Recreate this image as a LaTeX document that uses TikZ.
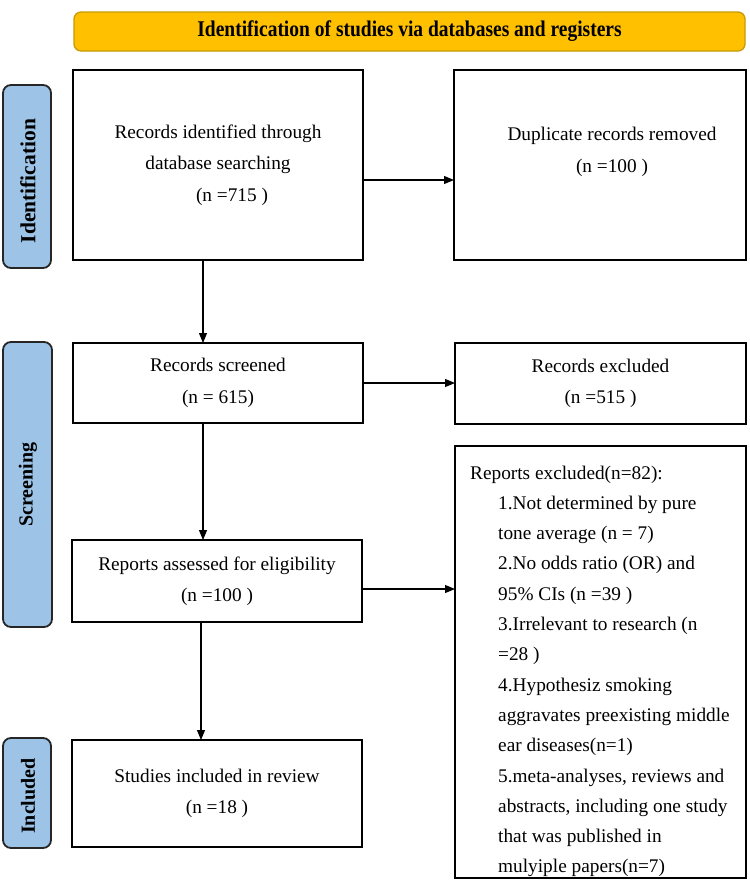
\documentclass[tikz,border=0pt]{standalone}
\usepackage{fontspec}
\setmainfont{Liberation Serif}
\usetikzlibrary{arrows.meta}
\definecolor{bannerfill}{HTML}{FFC000}
\definecolor{bannerline}{HTML}{C99A06}
\definecolor{sidefill}{HTML}{9DC3E6}
\begin{document}
\begin{tikzpicture}[x=1pt,y=-1pt,
  box/.style={draw=black,line width=1.8pt,fill=white,inner sep=0pt,outer sep=0pt,
    align=center,font=\fontsize{19.3}{31.5}\selectfont},
  side/.style={draw=black!85,line width=1.8pt,fill=sidefill,rounded corners=8pt,
    inner sep=0pt,outer sep=0pt},
  sidetext/.style={rotate=90,font=\fontsize{20}{24}\selectfont\bfseries},
  txt/.style={align=center,font=\fontsize{19.3}{31.5}\selectfont,inner sep=0pt},
  arr/.style={draw=black,line width=1.1pt,-{Triangle[length=10pt,width=8pt]}}
]
\useasboundingbox (0,0) rectangle (750,895);
\fill[white] (0,0) rectangle (750,895);

% banner
\node[draw=bannerline,line width=1.3pt,fill=bannerfill,rounded corners=7pt,
  minimum width=671pt,minimum height=39pt,inner sep=0pt,
  font=\fontsize{19.5}{22}\selectfont\bfseries] (banner) at (409.5,31.5)
  {\scalebox{1}[1.15]{Identification of studies via databases and registers}};

% side labels
\node[side,minimum width=48pt,minimum height=183pt] (sid) at (27,176.5) {};
\node[sidetext,font=\fontsize{21.5}{24}\selectfont\bfseries] (sidt) at (28,181) {Identification};
\node[side,minimum width=49pt,minimum height=285pt] (sscr) at (27.5,484.5) {};
\node[sidetext] (sscrt) at (28,484.5) {Screening};
\node[side,minimum width=48pt,minimum height=110pt] (sinc) at (27,793) {};
\node[sidetext] (sinct) at (28,796) {Included};

% boxes
\node[box,minimum width=290pt,minimum height=190pt] (b1) at (218,165)
  {Records identified through\\database searching\\\hspace*{28pt}(n =715 )};
\node[box,minimum width=292pt,minimum height=190pt] (b2) at (600,165) {};
\node[txt] (t2) at (612,152) {Duplicate records removed\\(n =100 )};
\node[box,minimum width=290pt,minimum height=80pt] (b3) at (218,383)
  {Records screened\\(n = 615)};
\node[box,minimum width=291pt,minimum height=81pt] (b4) at (600.5,383.5)
  {Records excluded\\(n =515 )};
\node[box,minimum width=291pt,minimum height=432pt] (b5) at (600.5,662) {};
\node[anchor=base west,inner sep=0pt] (t5) at (470,479)
  {\parbox[t]{272pt}{\fontsize{19.3}{30.3}\selectfont\raggedright
  Reports excluded(n=82):\\
  \hspace*{28pt}1.Not determined by pure\\
  \hspace*{28pt}tone average (n = 7)\\
  \hspace*{28pt}2.No odds ratio (OR) and\\
  \hspace*{28pt}95\% CIs (n =39 )\\
  \hspace*{28pt}3.Irrelevant to research (n\\
  \hspace*{28pt}=28 )\\
  \hspace*{28pt}4.Hypothesiz smoking\\
  \hspace*{28pt}aggravates preexisting middle\\
  \hspace*{28pt}ear diseases(n=1)\\
  \hspace*{28pt}5.meta-analyses, reviews and\\
  \hspace*{28pt}abstracts, including one study\\
  \hspace*{28pt}that was published in\\
  \hspace*{28pt}mulyiple papers(n=7)}};
\node[box,minimum width=290pt,minimum height=82pt] (b6) at (217,581)
  {Reports assessed for eligibility\\(n =100 )};
\node[box,minimum width=290pt,minimum height=107pt] (b7) at (217,793.5)
  {Studies included in review\\(n =18 )};

% connectors
\draw[arr] ([yshift=-15pt]b1.east) -- ([yshift=-15pt]b1.east -| b2.west);
\draw[arr] ([xshift=-15pt]b1.south) -- ([xshift=-15pt]b1.south |- b3.north);
\draw[arr] (b3.east) -- (b3.east -| b4.west);
\draw[arr] ([xshift=-15pt]b3.south) -- ([xshift=-15pt]b3.south |- b6.north);
\draw[arr] ([yshift=-8pt]b6.east) -- ([yshift=-8pt]b6.east -| b5.west);
\draw[arr] ([xshift=-16pt]b6.south) -- ([xshift=-16pt]b6.south |- b7.north);
\end{tikzpicture}
\end{document}
